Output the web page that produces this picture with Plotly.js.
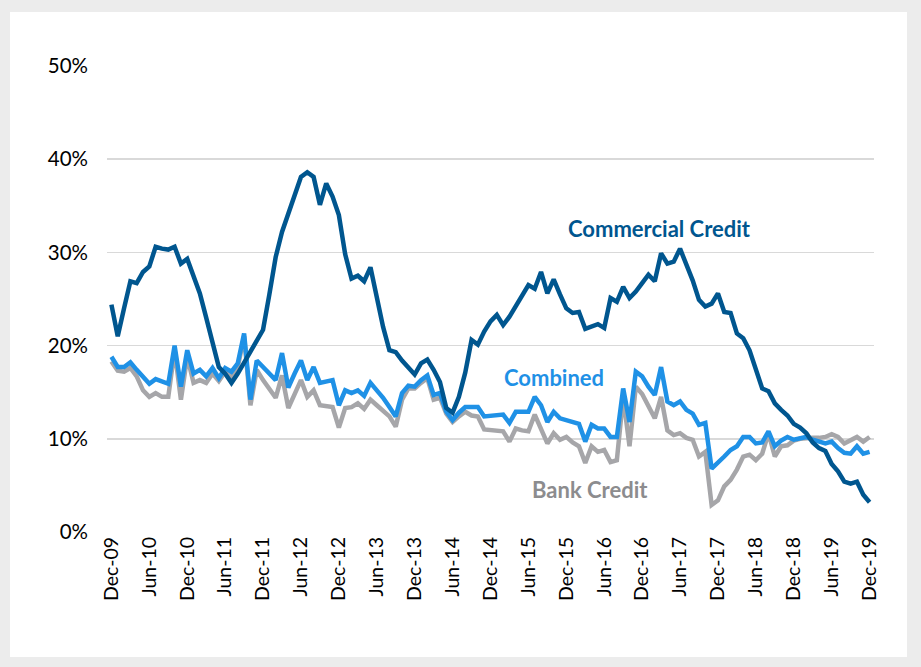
<!DOCTYPE html>
<html>
<head>
<meta charset="utf-8">
<script src="https://cdn.plot.ly/plotly-3.0.1.min.js"></script>
<style>
  html, body { margin: 0; padding: 0; background: #ececec; width: 921px; height: 667px; overflow: hidden; }
  #chart { position: absolute; left: 10px; top: 12px; width: 897px; height: 645px; background: #ffffff; }
</style>
</head>
<body>
<div id="chart"></div>
<script>
// Monthly growth rates, Dec-09 .. Dec-19 (121 months), in %
const commercialCredit = [
  24.4,21.0,24.0,26.9,26.7,27.9,28.5,30.6,30.4,30.3,30.6,28.8,
  29.3,27.6,25.6,23.0,20.2,17.7,17.0,16.0,17.0,18.2,19.2,20.5,
  21.7,25.5,29.5,32.2,34.2,36.2,38.1,38.6,38.1,35.1,37.4,36.0,
  34.0,29.8,27.2,27.5,26.9,28.4,25.0,22.0,19.5,19.3,18.4,17.6,
  16.9,18.1,18.5,17.4,16.1,13.3,12.8,14.5,17.1,20.6,20.1,21.5,
  22.6,23.3,22.2,23.1,24.3,25.5,26.5,26.1,27.9,25.6,27.1,25.5,
  24.0,23.5,23.6,21.8,22.1,22.3,21.9,25.1,24.7,26.3,25.1,25.8,
  26.7,27.6,26.9,29.9,28.8,29.0,30.4,28.8,27.0,24.9,24.2,24.5,
  25.6,23.6,23.5,21.3,20.8,19.5,17.3,15.4,15.1,13.8,13.1,12.5,
  11.6,11.2,10.6,9.6,9.0,8.7,7.3,6.5,5.4,5.2,5.4,4.0,
  3.2
];
const combined = [
  18.8,17.7,17.7,18.2,17.4,16.7,15.9,16.4,16.1,15.9,20.0,15.6,
  19.5,17.0,17.4,16.7,17.6,16.5,17.6,17.2,18.1,21.3,14.2,18.4,
  17.7,17.0,16.3,19.2,15.5,17.0,18.4,16.3,17.7,16.0,16.1,16.3,
  13.6,15.2,14.9,15.2,14.6,16.0,15.2,14.4,13.4,12.4,14.9,15.7,
  15.6,16.3,16.8,14.7,14.9,12.9,12.0,12.8,13.4,13.4,13.4,12.4,
  12.5,12.6,12.6,11.7,12.9,12.9,12.9,14.5,13.6,11.8,12.9,12.2,
  12.0,11.9,11.6,9.7,11.5,11.1,11.1,10.2,10.2,15.4,11.8,17.2,
  16.7,15.6,14.7,17.7,14.0,13.6,14.0,13.1,12.7,11.5,11.7,6.8,
  7.4,8.1,8.8,9.2,10.2,10.2,9.5,9.6,10.8,9.2,9.8,10.2,
  9.9,10.0,10.2,9.9,9.7,9.5,9.7,9.0,8.5,8.4,9.2,8.4,
  8.6
];
const bankCredit = [
  18.3,17.3,17.2,17.6,16.7,15.2,14.5,14.9,14.5,14.5,19.5,14.2,
  18.8,16.0,16.3,16.0,17.0,16.2,17.2,16.7,17.7,21.0,13.6,17.4,
  16.3,15.4,14.4,16.8,13.3,14.8,16.3,14.5,15.2,13.6,13.5,13.4,
  11.2,13.3,13.4,13.8,13.2,14.2,13.6,13.0,12.4,11.3,14.2,15.4,
  15.4,16.0,16.5,14.2,14.4,12.7,11.8,12.4,12.9,12.5,12.4,11.0,
  10.9,10.9,10.8,9.7,11.1,10.9,10.8,12.6,11.1,9.5,10.6,9.9,
  10.2,9.6,9.2,7.4,9.2,8.6,8.8,7.5,7.7,14.5,9.2,15.6,
  14.8,13.5,12.2,14.5,10.9,10.4,10.6,10.1,9.9,8.1,8.6,2.9,
  3.4,4.9,5.6,6.7,8.1,8.3,7.7,8.4,10.6,8.1,9.2,9.3,
  9.8,10.0,10.1,10.1,10.1,10.2,10.5,10.2,9.5,9.9,10.2,9.7,
  10.2
];
const tickLabels = ["Dec-09","Jun-10","Dec-10","Jun-11","Dec-11","Jun-12","Dec-12",
  "Jun-13","Dec-13","Jun-14","Dec-14","Jun-15","Dec-15","Jun-16","Dec-16","Jun-17",
  "Dec-17","Jun-18","Dec-18","Jun-19","Dec-19"];
const yTicks = [0,10,20,30,40,50];

const months = commercialCredit.map((_, i) => i);
const tickVals = tickLabels.map((_, k) => k * 6);

const FONT = "Lato, 'Open Sans', sans-serif";

const traces = [
  { x: months, y: bankCredit, type: "scatter", mode: "lines", name: "Bank Credit",
    line: { color: "#a6a6a9", width: 4.5 }, hoverinfo: "skip" },
  { x: months, y: combined, type: "scatter", mode: "lines", name: "Combined",
    line: { color: "#1f91e6", width: 4.5 }, hoverinfo: "skip" },
  { x: months, y: commercialCredit, type: "scatter", mode: "lines", name: "Commercial Credit",
    line: { color: "#00568f", width: 4.5 }, hoverinfo: "skip" }
];

const layout = {
  width: 897, height: 645,
  margin: { l: 97, r: 33, t: 54, b: 125 },
  paper_bgcolor: "#ffffff", plot_bgcolor: "#ffffff",
  showlegend: false,
  font: { family: FONT, size: 19, color: "#000000" },
  xaxis: {
    range: [-0.7, 120.7], tickmode: "array", tickvals: tickVals, ticktext: tickLabels,
    tickangle: -90, showgrid: false, zeroline: false, showline: false, ticks: "",
    tickfont: { family: FONT, size: 19.5, color: "#000000" }, fixedrange: true
  },
  yaxis: {
    range: [0, 50], tickmode: "array", tickvals: yTicks, ticktext: yTicks.map(v => v + "%"),
    showgrid: true, gridcolor: "#d9d9d9", gridwidth: 1.5, zeroline: false, showline: false,
    ticks: "", ticklabelstandoff: 18,
    tickfont: { family: FONT, size: 20.5, color: "#000000" }, fixedrange: true
  },
  annotations: [
    { x: 86.8, y: 32.6, xref: "x", yref: "y", text: "<b>Commercial Credit</b>", showarrow: false,
      font: { family: FONT, size: 22, color: "#00568f" } },
    { x: 70.0, y: 16.6, xref: "x", yref: "y", text: "<b>Combined</b>", showarrow: false,
      font: { family: FONT, size: 22, color: "#1f91e6" } },
    { x: 75.8, y: 4.6, xref: "x", yref: "y", text: "<b>Bank Credit</b>", showarrow: false,
      font: { family: FONT, size: 22, color: "#8c8c8e" } }
  ]
};

Plotly.newPlot("chart", traces, layout, { displayModeBar: false, staticPlot: true });
</script>
</body>
</html>
